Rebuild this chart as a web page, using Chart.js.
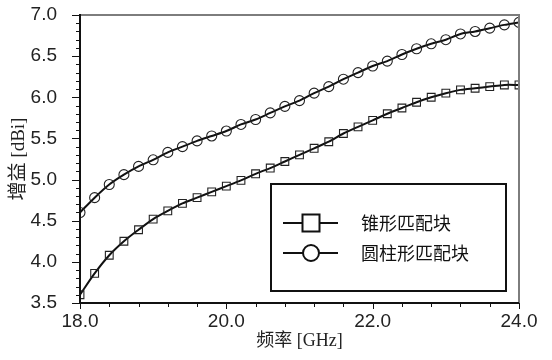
<!DOCTYPE html>
<html>
<head>
<meta charset="utf-8">
<script src="https://cdn.jsdelivr.net/npm/chart.js@4.4.1/dist/chart.umd.min.js"></script>
<style>
html,body{margin:0;padding:0;background:#fff;}
#wrap{width:552px;height:360px;}
</style>
</head>
<body>
<div id="wrap"><canvas id="gainChart" width="552" height="360"></canvas></div>
<script>
// ===== 数据 =====
const freqGHz = [18.0, 18.2, 18.4, 18.6, 18.8, 19.0, 19.2, 19.4, 19.6, 19.8,
                 20.0, 20.2, 20.4, 20.6, 20.8, 21.0, 21.2, 21.4, 21.6, 21.8,
                 22.0, 22.2, 22.4, 22.6, 22.8, 23.0, 23.2, 23.4, 23.6, 23.8, 24.0];
const gainTaper = [3.60, 3.86, 4.08, 4.25, 4.39, 4.52, 4.62, 4.71, 4.78, 4.85,
                   4.92, 4.99, 5.07, 5.14, 5.22, 5.30, 5.38, 5.46, 5.56, 5.64,
                   5.72, 5.80, 5.87, 5.94, 6.00, 6.05, 6.09, 6.11, 6.13, 6.15, 6.15];
const gainCylinder = [4.60, 4.78, 4.94, 5.06, 5.16, 5.24, 5.33, 5.40, 5.47, 5.53,
                      5.59, 5.67, 5.73, 5.81, 5.89, 5.96, 6.05, 6.13, 6.22, 6.30,
                      6.38, 6.44, 6.52, 6.59, 6.65, 6.70, 6.77, 6.80, 6.84, 6.88, 6.91];
const seriesNames = ["锥形匹配块", "圆柱形匹配块"];
const seriesMarkers = ["rect", "circle"];
const xTickValues = [18.0, 20.0, 22.0, 24.0];
const yTickValues = [3.5, 4.0, 4.5, 5.0, 5.5, 6.0, 6.5, 7.0];
const X_MINOR = 0.4, Y_MINOR = 0.1;

const NUM_FONT = "'Liberation Sans', Arial, sans-serif";
const CJK_FONT = "'Liberation Serif', 'Noto Sans CJK SC', serif";

function toPoints(ys){ return freqGHz.map((x, i) => ({ x, y: ys[i] })); }

// ===== 外框与刻度 =====
const framePlugin = {
  id: "frame",
  afterDraw(chart){
    const { ctx, chartArea: a, scales: { x, y } } = chart;
    ctx.save();
    ctx.lineCap = "butt";
    // 上/右 灰色边框
    ctx.strokeStyle = "#7d7d7d";
    ctx.lineWidth = 2;
    ctx.beginPath();
    ctx.moveTo(a.left, a.top); ctx.lineTo(a.right, a.top); ctx.lineTo(a.right, a.bottom);
    ctx.stroke();
    // 左/下 坐标轴
    ctx.strokeStyle = "#111";
    ctx.lineWidth = 2;
    ctx.beginPath();
    ctx.moveTo(a.left, a.top - 1); ctx.lineTo(a.left, a.bottom); ctx.lineTo(a.right, a.bottom);
    ctx.stroke();
    ctx.lineWidth = 1;
    ctx.beginPath();
    for (let v = y.min; v <= y.max + 1e-6; v += Y_MINOR){
      const py = Math.round(y.getPixelForValue(v)) + 0.5;
      const major = yTickValues.some(t => Math.abs(t - v) < 1e-6);
      ctx.moveTo(a.left, py); ctx.lineTo(a.left - (major ? 8 : 4), py);
    }
    for (let v = x.min; v <= x.max + 1e-6; v += X_MINOR){
      const px = Math.round(x.getPixelForValue(v)) + 0.5;
      const major = xTickValues.some(t => Math.abs(t - v) < 1e-6);
      ctx.moveTo(px, a.bottom); ctx.lineTo(px, a.bottom + (major ? 6 : 4));
    }
    ctx.stroke();
    ctx.restore();
  }
};

// ===== 图例(图内方框) =====
const legendBoxPlugin = {
  id: "legendBox",
  afterDraw(chart){
    const { ctx } = chart;
    const box = { x: 271, y: 184, w: 235, h: 107 };
    ctx.save();
    ctx.fillStyle = "#fff";
    ctx.fillRect(box.x, box.y, box.w, box.h);
    ctx.strokeStyle = "#111";
    ctx.lineWidth = 2;
    ctx.strokeRect(box.x, box.y, box.w, box.h);
    const rows = [223, 253];
    chart.data.datasets.forEach((ds, i) => {
      const cy = rows[i];
      ctx.strokeStyle = "#111";
      ctx.lineWidth = 2;
      ctx.beginPath();
      ctx.moveTo(283, cy); ctx.lineTo(338, cy);
      ctx.stroke();
      ctx.fillStyle = "#fff";
      ctx.beginPath();
      if (ds.pointStyle === "rect") ctx.rect(302.5, cy - 8.5, 17, 17);
      else ctx.arc(311, cy, 8, 0, Math.PI * 2);
      ctx.fill();
      ctx.stroke();
      ctx.fillStyle = "#111";
      ctx.font = "18px 'Noto Sans CJK SC', sans-serif";
      ctx.textBaseline = "middle";
      ctx.fillText(ds.label, 361, cy);
    });
    ctx.restore();
  }
};

const datasets = [gainTaper, gainCylinder].map((ys, i) => ({
  label: seriesNames[i],
  data: toPoints(ys),
  borderColor: "#111",
  borderWidth: 2,
  tension: 0.3,
  pointStyle: seriesMarkers[i],
  pointRadius: i === 0 ? 5.5 : 5,
  pointBorderWidth: 1.1,
  pointBorderColor: "#222",
  pointBackgroundColor: "rgba(255,255,255,0)"
}));

new Chart(document.getElementById("gainChart"), {
  type: "line",
  data: { datasets },
  options: {
    responsive: false,
    animation: false,
    layout: { padding: { top: 15, right: 33, left: 0, bottom: 0 } },
    plugins: { legend: { display: false }, tooltip: { enabled: false } },
    scales: {
      x: {
        type: "linear", min: 18, max: 24,
        afterBuildTicks: s => { s.ticks = xTickValues.map(v => ({ value: v })); },
        afterFit: s => { s.height = 57; s.paddingLeft = 0; s.paddingRight = 0; },
        grid: { display: false, drawTicks: false },
        border: { display: false },
        ticks: { callback: v => v.toFixed(1), color: "#222", padding: 7, maxRotation: 0,
                 font: { family: NUM_FONT, size: 19 } },
        title: { display: true, text: "频率 [GHz]", color: "#222",
                 font: { family: CJK_FONT, size: 18 }, padding: { top: 0, bottom: 8 } }
      },
      y: {
        min: 3.5, max: 7.0,
        afterBuildTicks: s => { s.ticks = yTickValues.map(v => ({ value: v })); },
        afterFit: s => { s.width = 80; s.paddingTop = 0; s.paddingBottom = 0; },
        grid: { display: false, drawTicks: false },
        border: { display: false },
        ticks: { callback: v => v.toFixed(1), color: "#222", padding: 23,
                 font: { family: NUM_FONT, size: 19 } },
        title: { display: true, text: "增益 [dBi]", color: "#222",
                 font: { family: CJK_FONT, size: 19 }, padding: { top: 8, bottom: 0 } }
      }
    }
  },
  plugins: [framePlugin, legendBoxPlugin]
});
</script>
</body>
</html>
